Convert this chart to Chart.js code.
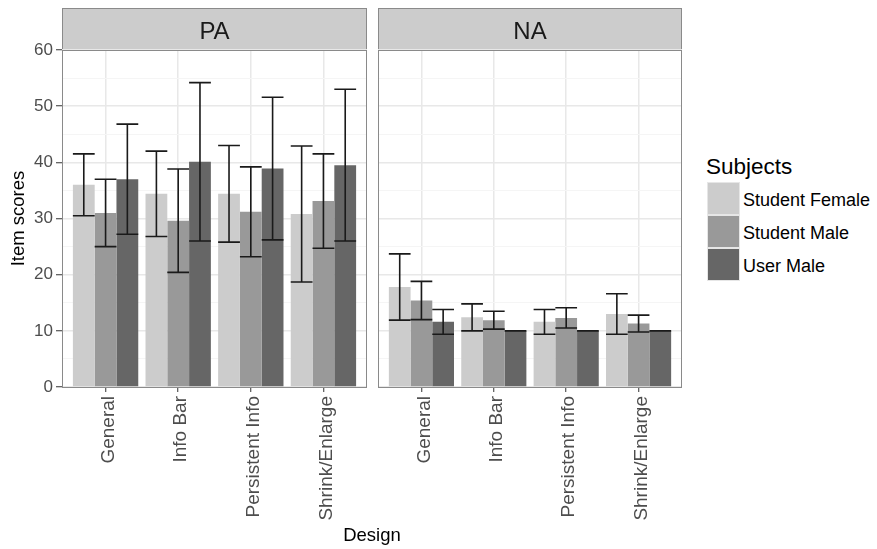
<!DOCTYPE html>
<html>
<head>
<meta charset="utf-8">
<script src="https://cdn.jsdelivr.net/npm/chart.js@4.4.1/dist/chart.umd.min.js"></script>
<style>
  html, body { margin: 0; padding: 0; background: #fff; }
  #wrap { position: relative; width: 877px; height: 549px; overflow: hidden;
          font-family: "Liberation Sans", Arial, sans-serif; }
  #wrap canvas { position: absolute; top: 0; }
  #xtitle { position: absolute; left: 300px; width: 144px; top: 526px; text-align: center;
            font-size: 18.5px; line-height: 18px; color: #000; }
  .legend-title { position: absolute; left: 706px; top: 156px; font-size: 22.5px; line-height: 22px; color: #000; }
  .legend-key { position: absolute; left: 707px; width: 31px; height: 31px; border: 1px solid #e6e6e6; }
  .legend-label { position: absolute; left: 743px; font-size: 18px; line-height: 18px; color: #000; white-space: nowrap; }
</style>
</head>
<body>
<div id="wrap">
  <canvas id="panelPA" width="372" height="549" style="left:0px"></canvas>
  <canvas id="panelNA" width="318" height="549" style="left:372px"></canvas>
  <div id="xtitle">Design</div>
  <div id="legend"></div>
</div>
<script>
// Categories, groups and tick labels
const designs = ['General', 'Info Bar', 'Persistent Info', 'Shrink/Enlarge'];
const subjects = ['Student Female', 'Student Male', 'User Male'];
const subjectColors = ['#cccccc', '#999999', '#666666'];
const yTickLabels = [0, 10, 20, 30, 40, 50, 60];

// PA item scores: mean and standard deviation per design
const paFemaleMean = [36.0, 34.4, 34.4, 30.8];
const paFemaleSd   = [5.5, 7.6, 8.6, 12.1];
const paMaleMean   = [31.0, 29.6, 31.2, 33.1];
const paMaleSd     = [6.0, 9.2, 8.0, 8.4];
const paUserMean   = [37.0, 40.1, 38.9, 39.5];
const paUserSd     = [9.8, 14.1, 12.7, 13.5];

// NA item scores: mean and standard deviation per design
const naFemaleMean = [17.8, 12.4, 11.6, 13.0];
const naFemaleSd   = [5.9, 2.4, 2.2, 3.6];
const naMaleMean   = [15.4, 11.9, 12.3, 11.3];
const naMaleSd     = [3.4, 1.6, 1.8, 1.5];
const naUserMean   = [11.6, 10.0, 10.0, 10.0];
const naUserSd     = [2.2, 0.0, 0.0, 0.0];

const FONT = '"Liberation Sans", Arial, sans-serif';

// Grey facet strip above each panel plus the panel frame
const facetStrip = {
  id: 'facetStrip',
  beforeDraw(chart, args, opts) {
    const { ctx, chartArea: { left, right, top } } = chart;
    const stripTop = 8;
    ctx.save();
    ctx.fillStyle = '#cccccc';
    ctx.fillRect(left, stripTop, right - left, top - stripTop);
    ctx.strokeStyle = '#8a8a8a';
    ctx.lineWidth = 1;
    ctx.strokeRect(left + 0.5, stripTop + 0.5, right - left - 1, top - stripTop);
    ctx.fillStyle = '#1a1a1a';
    ctx.font = '24px ' + FONT;
    ctx.textAlign = 'center';
    ctx.textBaseline = 'alphabetic';
    ctx.fillText(opts.label, (left + right) / 2, 39);
    ctx.restore();
  },
  afterDraw(chart) {
    const { ctx, chartArea: { left, right, top, bottom } } = chart;
    ctx.save();
    ctx.strokeStyle = '#8a8a8a';
    ctx.lineWidth = 1;
    ctx.strokeRect(left + 0.5, top + 0.5, right - left - 1, bottom - top);
    ctx.restore();
  }
};

// Mean +/- SD whiskers, placed on each bar through the y scale
const errorBars = {
  id: 'errorBars',
  afterDatasetsDraw(chart) {
    const { ctx } = chart;
    const yScale = chart.scales.y;
    ctx.save();
    ctx.strokeStyle = '#1a1a1a';
    ctx.lineWidth = 1.6;
    chart.data.datasets.forEach((ds, d) => {
      const meta = chart.getDatasetMeta(d);
      meta.data.forEach((bar, i) => {
        const m = ds.data[i].y, s = ds.sd[i];
        const yHi = yScale.getPixelForValue(m + s);
        const yLo = yScale.getPixelForValue(m - s);
        const half = bar.width / 2;
        ctx.beginPath();
        ctx.moveTo(bar.x, yHi); ctx.lineTo(bar.x, yLo);
        ctx.moveTo(bar.x - half, yHi); ctx.lineTo(bar.x + half, yHi);
        ctx.moveTo(bar.x - half, yLo); ctx.lineTo(bar.x + half, yLo);
        ctx.stroke();
      });
    });
    ctx.restore();
  }
};

function makePanel(canvasId, label, means, sds, showY, padRight) {
  const datasets = subjects.map((name, k) => ({
    label: name,
    data: means[k].map((v, i) => ({ x: i + 1, y: v })),
    sd: sds[k],
    backgroundColor: subjectColors[k],
    borderWidth: 0,
    categoryPercentage: 0.9,
    barPercentage: 1.0
  }));
  return new Chart(document.getElementById(canvasId), {
    type: 'bar',
    data: { datasets },
    plugins: [facetStrip, errorBars],
    options: {
      responsive: false,
      animation: false,
      layout: { padding: { top: 50, right: padRight, left: 0, bottom: 0 } },
      plugins: {
        legend: { display: false },
        tooltip: { enabled: false },
        facetStrip: { label }
      },
      scales: {
        x: {
          type: 'linear',
          min: 0.4,
          max: 4.6,
          offset: false,
          afterBuildTicks: s => { s.ticks = designs.map((_, i) => ({ value: i + 1 })); },
          afterFit: s => { s.height = 162; },
          ticks: {
            autoSkip: false,
            minRotation: 90,
            maxRotation: 90,
            padding: 4,
            labelOffset: 3,
            color: '#4d4d4d',
            font: { family: FONT, size: 19 },
            callback: v => designs[Math.round(v) - 1]
          },
          grid: { offset: false, color: '#e8e8e8', lineWidth: 1.5, tickLength: 5, tickColor: '#333333', tickWidth: 1 },
          border: { display: false }
        },
        y: {
          min: 0,
          max: 60,
          afterFit: s => { s.width = showY ? 62 : 6; },
          ticks: {
            display: showY,
            stepSize: 5,
            padding: 3,
            color: '#4d4d4d',
            font: { family: FONT, size: 17 },
            callback: v => yTickLabels.includes(v) ? String(v) : ''
          },
          grid: {
            drawTicks: showY,
            tickLength: 6,
            tickWidth: 1,
            color: c => (c.tick && c.tick.value % 10 === 0) ? '#e8e8e8' : '#f5f5f5',
            lineWidth: c => (c.tick && c.tick.value % 10 === 0) ? 1.5 : 1,
            tickColor: c => (c.tick && c.tick.value % 10 === 0) ? '#333333' : 'rgba(0,0,0,0)'
          },
          border: { display: false },
          title: {
            display: showY,
            text: 'Item scores',
            color: '#000',
            font: { family: FONT, size: 18.5 },
            padding: { top: 8, bottom: 0 }
          }
        }
      }
    }
  });
}

makePanel('panelPA', 'PA',
  [paFemaleMean, paMaleMean, paUserMean], [paFemaleSd, paMaleSd, paUserSd], true, 5);
makePanel('panelNA', 'NA',
  [naFemaleMean, naMaleMean, naUserMean], [naFemaleSd, naMaleSd, naUserSd], false, 8);

// Legend
const legend = document.getElementById('legend');
const title = document.createElement('div');
title.className = 'legend-title';
title.textContent = 'Subjects';
legend.appendChild(title);
subjects.forEach((name, k) => {
  const top = 182 + k * 33;
  const key = document.createElement('div');
  key.className = 'legend-key';
  key.style.top = top + 'px';
  key.style.background = subjectColors[k];
  legend.appendChild(key);
  const lab = document.createElement('div');
  lab.className = 'legend-label';
  lab.style.top = (top + 9) + 'px';
  lab.textContent = name;
  legend.appendChild(lab);
});
</script>
</body>
</html>
